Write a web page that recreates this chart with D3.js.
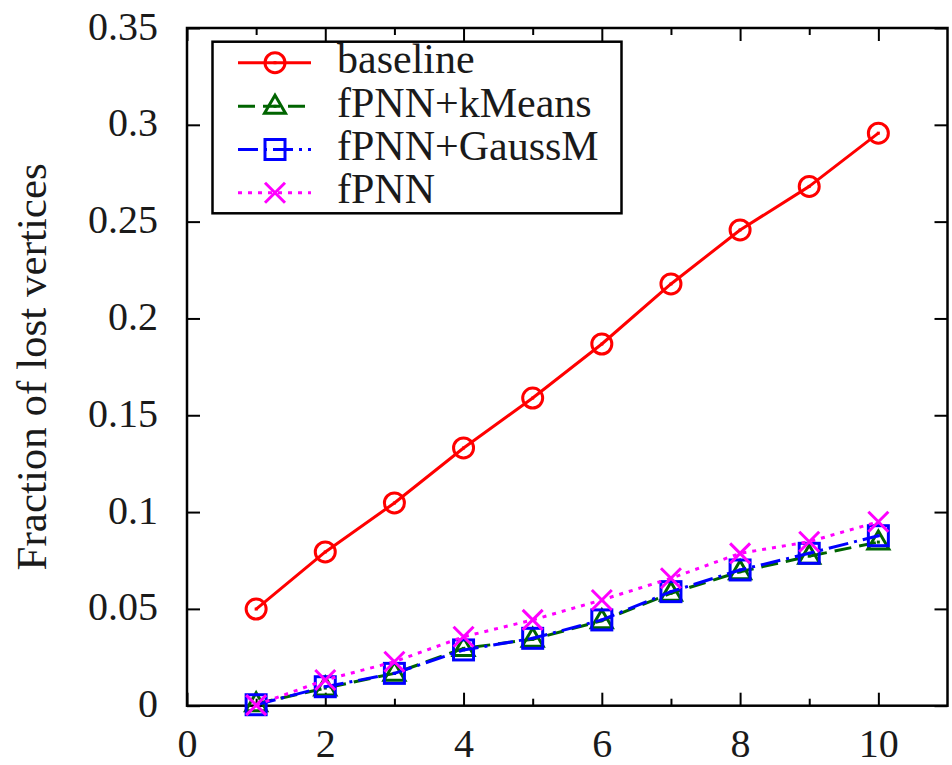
<!DOCTYPE html>
<html>
<head>
<meta charset="utf-8">
<script src="https://cdn.jsdelivr.net/npm/d3@7"></script>
<style>
  html, body { margin: 0; padding: 0; background: #fff; }
  svg { display: block; }
</style>
</head>
<body>
<svg id="chart" width="952" height="765"></svg>
<script>
// ---- data ----
const xValues = [1, 2, 3, 4, 5, 6, 7, 8, 9, 10];
const baseline = [0.0499, 0.0794, 0.1047, 0.1331, 0.1589, 0.1868, 0.2178, 0.2457, 0.2682, 0.2957];
const fpnnKMeans = [0.0010, 0.0091, 0.0167, 0.0296, 0.0343, 0.0439, 0.0581, 0.0692, 0.0772, 0.0845];
const fpnnGaussM = [0.0005, 0.0098, 0.0167, 0.0288, 0.0348, 0.0443, 0.0589, 0.0701, 0.0787, 0.0878];
const fpnn = [0.0003, 0.0133, 0.0227, 0.0356, 0.0443, 0.0546, 0.0658, 0.0787, 0.0847, 0.0950];
const seriesNames = ["baseline", "fPNN+kMeans", "fPNN+GaussM", "fPNN"];
const xMajorTicks = [0, 2, 4, 6, 8, 10];
const xTickLabels = ["0", "2", "4", "6", "8", "10"];
const xMinorTicks = [1, 3, 5, 7, 9];
const yTicks = [0, 0.05, 0.1, 0.15, 0.2, 0.25, 0.3, 0.35];
const yTickLabels = ["0", "0.05", "0.1", "0.15", "0.2", "0.25", "0.3", "0.35"];
const yLabel = "Fraction of lost vertices";

// ---- layout ----
const L = 187, R = 947.5, T = 28, B = 705.7;
const FONT = '"Liberation Serif", "Times New Roman", serif';
const TXT = "#1a1a1a";
const svg = d3.select("#chart");
const x = d3.scaleLinear().domain([0, 11]).range([L, R]);
const y = d3.scaleLinear().domain([0, 0.35]).range([B, T]);

const styles = [
  { color: "#ff0000", dash: null, marker: "circle" },
  { color: "#006400", dash: "17,8", marker: "triangle" },
  { color: "#0000ff", dash: "20,6,3,6", marker: "square" },
  { color: "#ff00ff", dash: "4,6", marker: "cross" }
];
const allSeries = [baseline, fpnnKMeans, fpnnGaussM, fpnn];

// ---- axes (inward ticks, mirrored) ----
function styleAxis(g) {
  g.attr("font-family", FONT);
  g.select(".domain").remove();
  g.selectAll(".tick line").attr("stroke", "#000").attr("stroke-width", 2);
}
svg.append("g").attr("transform", `translate(0,${B})`)
  .call(d3.axisBottom(x).tickValues(xMajorTicks).tickSize(-13)
    .tickFormat((d, i) => xTickLabels[i]))
  .call(styleAxis)
  .call(g => g.selectAll(".tick text").attr("y", 51).attr("dy", null)
    .attr("font-size", 40).attr("fill", TXT));
svg.append("g").attr("transform", `translate(0,${B})`)
  .call(d3.axisBottom(x).tickValues(xMinorTicks).tickSize(-7).tickFormat(""))
  .call(styleAxis);
svg.append("g").attr("transform", `translate(0,${T})`)
  .call(d3.axisTop(x).tickValues(xMajorTicks).tickSize(-13).tickFormat(""))
  .call(styleAxis);
svg.append("g").attr("transform", `translate(0,${T})`)
  .call(d3.axisTop(x).tickValues(xMinorTicks).tickSize(-7).tickFormat(""))
  .call(styleAxis);
svg.append("g").attr("transform", `translate(${L},0)`)
  .call(d3.axisLeft(y).tickValues(yTicks).tickSize(-13)
    .tickFormat((d, i) => yTickLabels[i]))
  .call(styleAxis)
  .call(g => g.selectAll(".tick text").attr("x", -29).attr("dy", 11)
    .attr("font-size", 40).attr("fill", TXT));
svg.append("g").attr("transform", `translate(${R},0)`)
  .call(d3.axisRight(y).tickValues(yTicks).tickSize(-13).tickFormat(""))
  .call(styleAxis);

// frame
svg.append("rect").attr("x", L).attr("y", T).attr("width", R - L).attr("height", B - T)
  .attr("fill", "none").attr("stroke", "#000").attr("stroke-width", 2.5);

// y label
svg.append("text")
  .attr("transform", `translate(46,${(T + B) / 2}) rotate(-90)`)
  .attr("text-anchor", "middle").attr("font-size", 43)
  .attr("font-family", FONT).attr("fill", TXT).text(yLabel);

// ---- markers ----
function drawMarker(g, type, cx, cy, color) {
  const sw = 3;
  if (type === "circle") {
    g.append("circle").attr("cx", cx).attr("cy", cy).attr("r", 10)
      .attr("fill", "none").attr("stroke", color).attr("stroke-width", sw);
  } else if (type === "triangle") {
    g.append("path").attr("d", `M${cx},${cy - 11}L${cx + 10.5},${cy + 7}L${cx - 10.5},${cy + 7}Z`)
      .attr("fill", "none").attr("stroke", color).attr("stroke-width", sw).attr("stroke-linejoin", "miter");
  } else if (type === "square") {
    g.append("rect").attr("x", cx - 10).attr("y", cy - 10).attr("width", 20).attr("height", 20)
      .attr("fill", "none").attr("stroke", color).attr("stroke-width", sw);
  } else if (type === "cross") {
    g.append("path").attr("d", `M${cx - 10},${cy - 10}L${cx + 10},${cy + 10}M${cx - 10},${cy + 10}L${cx + 10},${cy - 10}`)
      .attr("fill", "none").attr("stroke", color).attr("stroke-width", sw);
  }
  g.append("rect").attr("x", cx - 1.5).attr("y", cy - 1.5).attr("width", 3).attr("height", 3).attr("fill", color);
}

// ---- series ----
const plot = svg.append("g");
allSeries.forEach((vals, si) => {
  const st = styles[si];
  const pts = xValues.map((xv, i) => [xv, vals[i]]);
  const line = d3.line().x(d => x(d[0])).y(d => y(d[1]));
  plot.append("path").attr("d", line(pts)).attr("fill", "none")
    .attr("stroke", st.color).attr("stroke-width", 3)
    .attr("stroke-dasharray", st.dash).attr("stroke-linejoin", "round");
  const mg = plot.append("g");
  pts.forEach(p => drawMarker(mg, st.marker, x(p[0]), y(p[1]), st.color));
});

// ---- legend ----
const lg = svg.append("g");
lg.append("rect").attr("x", 212.5).attr("y", 41.7).attr("width", 409).attr("height", 171.6)
  .attr("fill", "#fff").attr("stroke", "#000").attr("stroke-width", 2.5);
const legendY = [62.7, 106.3, 149.5, 192.7];
seriesNames.forEach((name, i) => {
  const st = styles[i];
  const ly = legendY[i];
  lg.append("line").attr("x1", 238).attr("x2", 311).attr("y1", ly).attr("y2", ly)
    .attr("stroke", st.color).attr("stroke-width", 3).attr("stroke-dasharray", st.dash);
  drawMarker(lg, st.marker, 275, ly, st.color);
  lg.append("text").attr("x", 337).attr("y", ly + 10.6).attr("font-size", 42)
    .attr("font-family", FONT).attr("fill", TXT).text(name);
});
</script>
</body>
</html>
